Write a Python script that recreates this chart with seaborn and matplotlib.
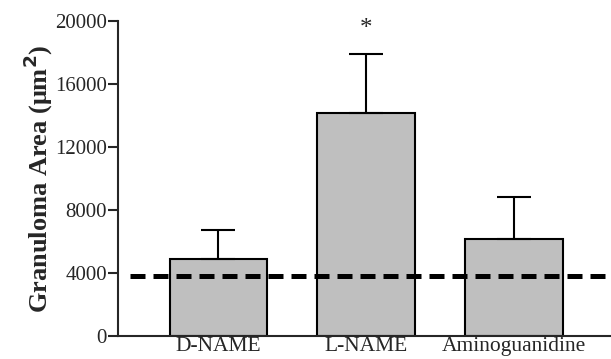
import matplotlib
matplotlib.use('Agg')
import matplotlib.pyplot as plt
import seaborn as sns
import pandas as pd

# Values
groups = ['D-NAME', 'L-NAME', 'Aminoguanidine']
mean_area = [4900, 14150, 6150]
sem_area = [1800, 3750, 2650]
control_level = 3800
y_ticks = [0, 4000, 8000, 12000, 16000, 20000]

df = pd.DataFrame({'group': groups, 'area': mean_area})

sns.set_style('ticks')
plt.rcParams['font.family'] = ['Liberation Serif', 'DejaVu Serif']

fig = plt.figure(figsize=(6.11, 3.59), dpi=100)
ax = fig.add_axes([0.193, 0.064, 0.805, 0.878])

sns.barplot(data=df, x='group', y='area', color='#bfbfbf', saturation=1,
            edgecolor='black', linewidth=1.5, width=0.66, errorbar=None, ax=ax)

# upper error bars only
ax.errorbar(range(len(groups)), mean_area, yerr=[[0] * len(groups), sem_area],
            fmt='none', ecolor='black', elinewidth=1.5, capsize=12, capthick=1.5, zorder=3)

# control level
ax.axhline(control_level, xmin=0.024, xmax=0.994, color='black', linewidth=3.6,
           dashes=(3, 1.6), zorder=4)

ax.text(1, 19500, '*', ha='center', va='center', fontsize=18)

ax.set_xlim(-0.68, 2.65)
ax.set_ylim(0, 20000)
ax.set_yticks(y_ticks)
ax.set_yticklabels([str(t) for t in y_ticks], fontsize=15)
ax.tick_params(axis='y', direction='out', length=7, width=1.5, pad=1)
ax.tick_params(axis='x', length=0, labelsize=15.5, pad=1)
ax.set_xlabel('')
ax.set_ylabel('Granuloma Area (μm$^\\mathbf{2}$)', fontsize=19, fontweight='bold', labelpad=0)

sns.despine(ax=ax)
ax.spines['left'].set_linewidth(1.5)
ax.spines['bottom'].set_linewidth(1.5)

fig.savefig('out.png', dpi=100)
